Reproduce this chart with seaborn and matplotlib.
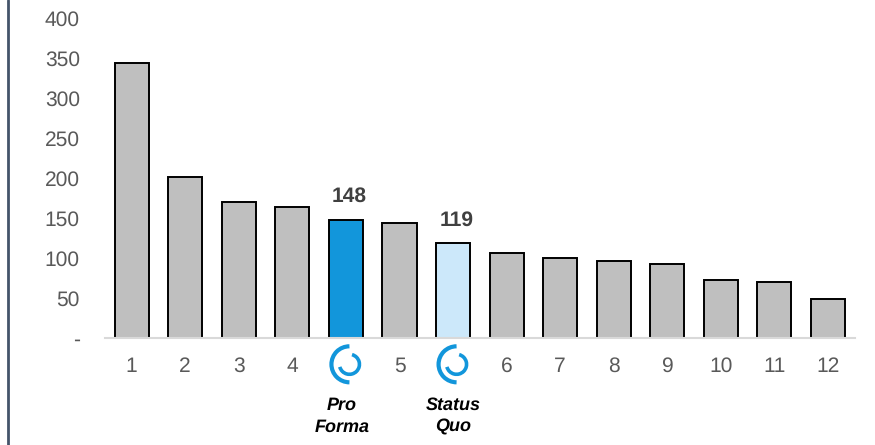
import matplotlib
matplotlib.use("Agg")
import matplotlib.pyplot as plt
from matplotlib.patches import Arc
from matplotlib.lines import Line2D
import seaborn as sns
import pandas as pd

categories = ["1", "2", "3", "4", "Pro Forma", "5", "Status Quo",
              "6", "7", "8", "9", "10", "11", "12"]
values = [344, 202, 170, 164, 148, 144, 119, 107, 100, 97, 93, 72, 70, 49]
tick_labels = ["1", "2", "3", "4", "", "5", "", "6", "7", "8", "9", "10", "11", "12"]
y_ticks = [0, 50, 100, 150, 200, 250, 300, 350, 400]
y_labels = ["-", "50", "100", "150", "200", "250", "300", "350", "400"]
highlights = {"Pro Forma": "#1296DB", "Status Quo": "#CCE8FA"}
callouts = {"Pro Forma": ("Pro\nForma", -4), "Status Quo": ("Status\nQuo", 0)}

GREY = "#BFBFBF"
ICON_BLUE = "#1296DB"
W, H = 875, 445

sns.set_theme(style="white")
plt.rcParams["font.family"] = ["Liberation Sans", "DejaVu Sans"]
plt.rcParams["text.hinting"] = "none"
plt.rcParams["text.hinting_factor"] = 1

fig = plt.figure(figsize=(W / 100, H / 100), dpi=100)
ax = fig.add_axes([104.9 / W, 1 - 338 / H, (854.8 - 104.9) / W, (338 - 18.5) / H])

frame = pd.DataFrame({"category": categories, "value": values})
palette = {c: highlights.get(c, GREY) for c in categories}
sns.barplot(data=frame, x="category", y="value", hue="category", order=categories,
            palette=palette, dodge=False, legend=False, width=0.635, saturation=1,
            edgecolor="black", linewidth=1.4, ax=ax)

ax.set_xlim(-0.5, len(categories) - 0.5)
ax.set_ylim(0, 400)
ax.set_xlabel("")
ax.set_ylabel("")
ax.set_xticks(range(len(categories)))
ax.set_xticklabels(tick_labels)
ax.set_yticks(y_ticks)
ax.set_yticklabels(y_labels)
ax.tick_params(axis="x", length=0, pad=13.5, labelsize=15, labelcolor="#595959")
ax.tick_params(axis="y", length=0, pad=18, labelsize=15, labelcolor="#595959")
for side in ("top", "right", "left"):
    ax.spines[side].set_visible(False)
ax.spines["bottom"].set_color("#D9D9D9")
ax.spines["bottom"].set_linewidth(1.5)
ax.spines["bottom"].set_zorder(5)

# Value labels above the two highlighted bars
for name in highlights:
    i = categories.index(name)
    ax.annotate(str(values[i]), (i, values[i]), xytext=(2.5, 9.5), textcoords="offset points",
                ha="center", va="bottom", fontsize=15, fontweight="bold", color="#404040")

# Pixel-space overlay for the frame rule, the ring icons and the captions
overlay = fig.add_axes([0, 0, 1, 1], facecolor="none")
overlay.set_xlim(0, W)
overlay.set_ylim(H, 0)
overlay.axis("off")
overlay.add_line(Line2D([8, 8], [0, H], color="#44546A", linewidth=2))

for name, (caption, shift) in callouts.items():
    i = categories.index(name)
    px, _ = ax.transData.transform((i, 0))
    cx, cy = px + 3.5, 364.3
    # y runs downward here, so arc angles are measured clockwise from +x
    overlay.add_patch(Arc((cx, cy), 36, 36, theta1=90, theta2=270,
                          color=ICON_BLUE, linewidth=3))
    overlay.add_patch(Arc((cx, cy), 20, 20, theta1=-75, theta2=165,
                          color=ICON_BLUE, linewidth=2.6))
    overlay.text(px + shift, 416, caption, ha="center", va="center", fontsize=13.3,
                 fontweight="bold", fontstyle="italic", color="black", linespacing=1.35)

fig.savefig("out.png", dpi=100)
